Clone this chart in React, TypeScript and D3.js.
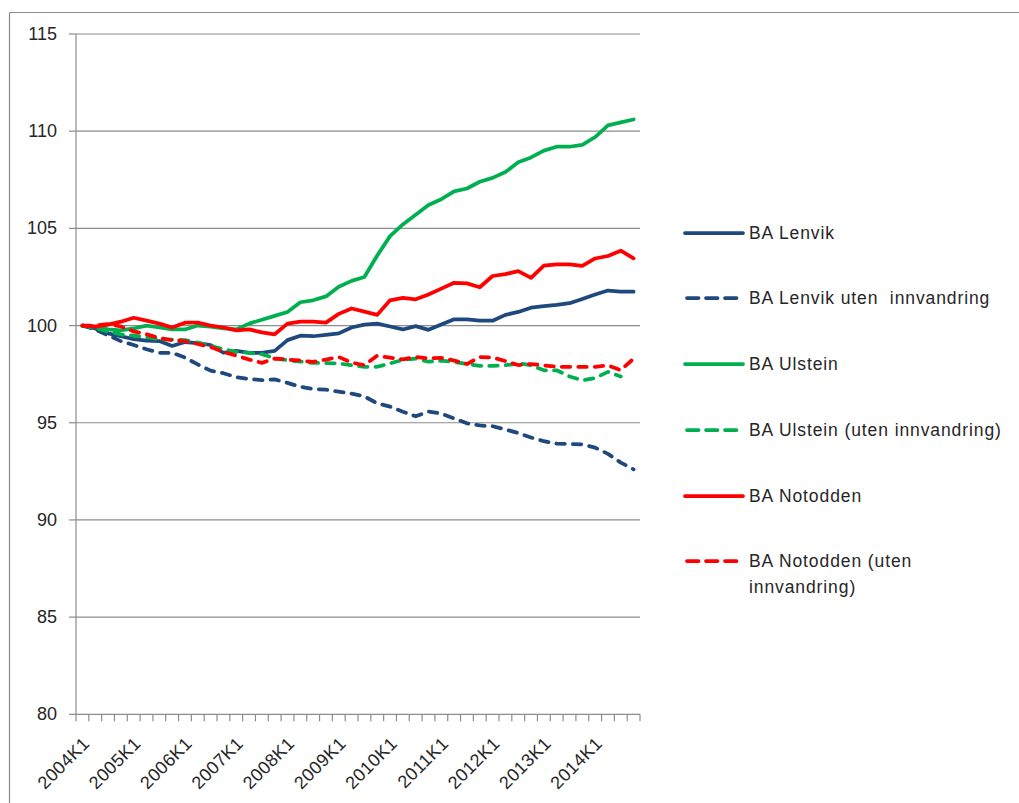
import React from "react";
import * as d3 from "d3";

const categories = [
  "2004K1","2004K2","2004K3","2004K4","2005K1","2005K2","2005K3","2005K4",
  "2006K1","2006K2","2006K3","2006K4","2007K1","2007K2","2007K3","2007K4",
  "2008K1","2008K2","2008K3","2008K4","2009K1","2009K2","2009K3","2009K4",
  "2010K1","2010K2","2010K3","2010K4","2011K1","2011K2","2011K3","2011K4",
  "2012K1","2012K2","2012K3","2012K4","2013K1","2013K2","2013K3","2013K4",
  "2014K1","2014K2","2014K3","2014K4",
];

const xTickLabels = [
  "2004K1","2005K1","2006K1","2007K1","2008K1","2009K1",
  "2010K1","2011K1","2012K1","2013K1","2014K1",
];

const yTicks = [80, 85, 90, 95, 100, 105, 110, 115];

const lenvik = [
  100, 99.85, 99.6, 99.45, 99.3, 99.22, 99.2, 98.95, 99.15, 99.1, 99.0, 98.6,
  98.7, 98.6, 98.6, 98.7, 99.25, 99.48, 99.45, 99.52, 99.6, 99.9, 100.05, 100.1,
  99.95, 99.8, 99.97, 99.78, 100.05, 100.32, 100.32, 100.25, 100.25, 100.55, 100.7, 100.92,
  101.0, 101.06, 101.15, 101.37, 101.6, 101.8, 101.74, 101.74,
];

const lenvikUten = [
  100, 99.8, 99.5, 99.2, 99.0, 98.78, 98.6, 98.6, 98.35, 98.0, 97.68, 97.55,
  97.35, 97.25, 97.19, 97.23, 97.05, 96.85, 96.74, 96.7, 96.6, 96.5, 96.35, 96.0,
  95.83, 95.57, 95.33, 95.58, 95.47, 95.22, 94.97, 94.86, 94.82, 94.65, 94.47, 94.24,
  94.05, 93.93, 93.9, 93.88, 93.72, 93.4, 92.95, 92.6,
];

const ulstein = [
  100, 99.95, 99.8, 99.75, 99.85, 100.0, 99.9, 99.8, 99.8, 100.0, 99.95, 99.85,
  99.8, 100.1, 100.3, 100.5, 100.7, 101.2, 101.3, 101.5, 102.0, 102.3, 102.5, 103.6,
  104.6, 105.2, 105.7, 106.2, 106.5, 106.9, 107.05, 107.4, 107.6, 107.9, 108.4, 108.65,
  109.0, 109.2, 109.2, 109.3, 109.7, 110.3, 110.45, 110.6,
];

const ulsteinUten: (number | null)[] = [
  100, 99.87, 99.7, 99.55, 99.48, 99.4, 99.3, 99.27, 99.25, 99.12, 98.95, 98.78,
  98.65, 98.6, 98.53, 98.31, 98.22, 98.15, 98.08, 98.07, 98.05, 97.96, 97.88, 97.88,
  98.05, 98.24, 98.3, 98.14, 98.19, 98.13, 98.02, 97.93, 97.93, 97.96, 98.05, 97.96,
  97.7, 97.7, 97.38, 97.18, 97.3, 97.62, 97.38, null,
];

const notodden = [
  100, 99.95, 100.05, 100.2, 100.4, 100.25, 100.1, 99.9, 100.15, 100.15, 100.0, 99.9,
  99.75, 99.8, 99.65, 99.55, 100.1, 100.2, 100.2, 100.15, 100.6, 100.88, 100.72, 100.55,
  101.3, 101.42, 101.35, 101.6, 101.9, 102.2, 102.17, 101.97, 102.55, 102.65, 102.8, 102.45,
  103.08, 103.15, 103.15, 103.07, 103.45, 103.58, 103.85, 103.46,
];

const notoddenUten = [
  100, 100.0, 100.08, 99.95, 99.7, 99.55, 99.35, 99.25, 99.2, 99.05, 98.9, 98.65,
  98.45, 98.25, 98.08, 98.3, 98.25, 98.2, 98.13, 98.25, 98.38, 98.1, 97.96, 98.45,
  98.35, 98.26, 98.38, 98.31, 98.34, 98.2, 98.02, 98.38, 98.36, 98.17, 97.97, 98.02,
  97.95, 97.88, 97.88, 97.88, 97.88, 97.95, 97.7, 98.3,
];

const seriesNames = [
  "BA Lenvik",
  "BA Lenvik uten  innvandring",
  "BA Ulstein",
  "BA Ulstein (uten innvandring)",
  "BA Notodden",
  "BA Notodden (uten|innvandring)",
];
const seriesValues = [lenvik, lenvikUten, ulstein, ulsteinUten, notodden, notoddenUten];
const seriesColors = ["#1F497D", "#1F497D", "#00B050", "#00B050", "#FF0000", "#FF0000"];
const seriesDashed = [false, true, false, true, false, true];

const W = 1019;
const H = 803;
const plotLeft = 76;
const plotRight = 640;
const plotTop = 34;
const plotBottom = 714.3;
const FONT = "'Liberation Sans', Arial, sans-serif";
const TEXT = "#262626";
const AXIS = "#8c8c8c";

export default function App() {
  const x = d3.scaleBand<string>().domain(categories).range([plotLeft, plotRight]).paddingInner(0).paddingOuter(0);
  const y = d3.scaleLinear().domain([80, 115]).range([plotBottom, plotTop]);
  const cx = (c: string) => (x(c) as number) + x.bandwidth() / 2;

  const line = d3
    .line<number | null>()
    .defined((d) => d !== null)
    .x((_, i) => cx(categories[i]))
    .y((d) => y(d as number));

  const boundaries = categories.map((c) => x(c) as number).concat([plotRight]);

  const legendX0 = 685;
  const legendX1 = 743;
  const legendTextX = 749;
  const legendY = [233, 298, 364, 430, 496, 561];

  return (
    <svg
      width={W}
      height={H}
      style={{ position: "absolute", left: 0, top: 0, background: "#fff" }}
      fontFamily={FONT}
    >
      <rect x={0} y={0} width={W} height={H} fill="#ffffff" />
      {/* outer chart border */}
      <line x1={9.5} y1={12.5} x2={W} y2={12.5} stroke={AXIS} strokeWidth={1.2} />
      <line x1={9.5} y1={12.5} x2={9.5} y2={H} stroke={AXIS} strokeWidth={1.2} />

      {/* gridlines */}
      {yTicks.map((t) => (
        <g key={`g${t}`}>
          {t !== 80 && (
            <line x1={plotLeft} x2={plotRight} y1={y(t)} y2={y(t)} stroke={AXIS} strokeWidth={1.2} />
          )}
          <line x1={plotLeft - 7} x2={plotLeft} y1={y(t)} y2={y(t)} stroke={AXIS} strokeWidth={1.2} />
          <text
            x={57}
            y={y(t)}
            textAnchor="end"
            dominantBaseline="central"
            fontSize={18}
            fill={TEXT}
          >
            {t}
          </text>
        </g>
      ))}

      {/* axes */}
      <line x1={plotLeft} x2={plotLeft} y1={plotTop} y2={plotBottom} stroke={AXIS} strokeWidth={1.2} />
      <line x1={plotLeft} x2={plotRight} y1={plotBottom} y2={plotBottom} stroke={AXIS} strokeWidth={1.2} />
      {boundaries.map((bx, i) => (
        <line key={`t${i}`} x1={bx} x2={bx} y1={plotBottom} y2={plotBottom + 7} stroke={AXIS} strokeWidth={1.2} />
      ))}
      {xTickLabels.map((lab) => {
        const px = cx(lab) + 4;
        const py = plotBottom + 26;
        return (
          <text
            key={lab}
            transform={`translate(${px},${py}) rotate(-45)`}
            textAnchor="end"
            dominantBaseline="central"
            fontSize={18}
            letterSpacing={0.4}
            fill={TEXT}
          >
            {lab}
          </text>
        );
      })}

      {/* series */}
      {seriesValues.map((vals, si) => (
        <path
          key={`s${si}`}
          d={line(vals as (number | null)[]) || ""}
          fill="none"
          stroke={seriesColors[si]}
          strokeWidth={3.75}
          strokeLinejoin="round"
          strokeLinecap="round"
          strokeDasharray={seriesDashed[si] ? "8.5 8" : undefined}
        />
      ))}

      {/* legend */}
      {seriesNames.map((name, si) => {
        const ly = legendY[si];
        const lines = name.split("|");
        return (
          <g key={`l${si}`}>
            <line
              x1={legendX0 + (seriesDashed[si] ? 2 : 0)}
              x2={legendX1 - (seriesDashed[si] ? 4 : 0)}
              y1={ly}
              y2={ly}
              stroke={seriesColors[si]}
              strokeWidth={3.75}
              strokeLinecap="round"
              strokeDasharray={seriesDashed[si] ? "11.5 7.5" : undefined}
            />
            {lines.map((ln, k) => (
              <text
                key={k}
                x={legendTextX}
                y={ly + k * 26}
                dominantBaseline="central"
                fontSize={17.5}
                letterSpacing={0.9}
                fill={TEXT}
                style={{ whiteSpace: "pre" }}
              >
                {ln}
              </text>
            ))}
          </g>
        );
      })}
    </svg>
  );
}
